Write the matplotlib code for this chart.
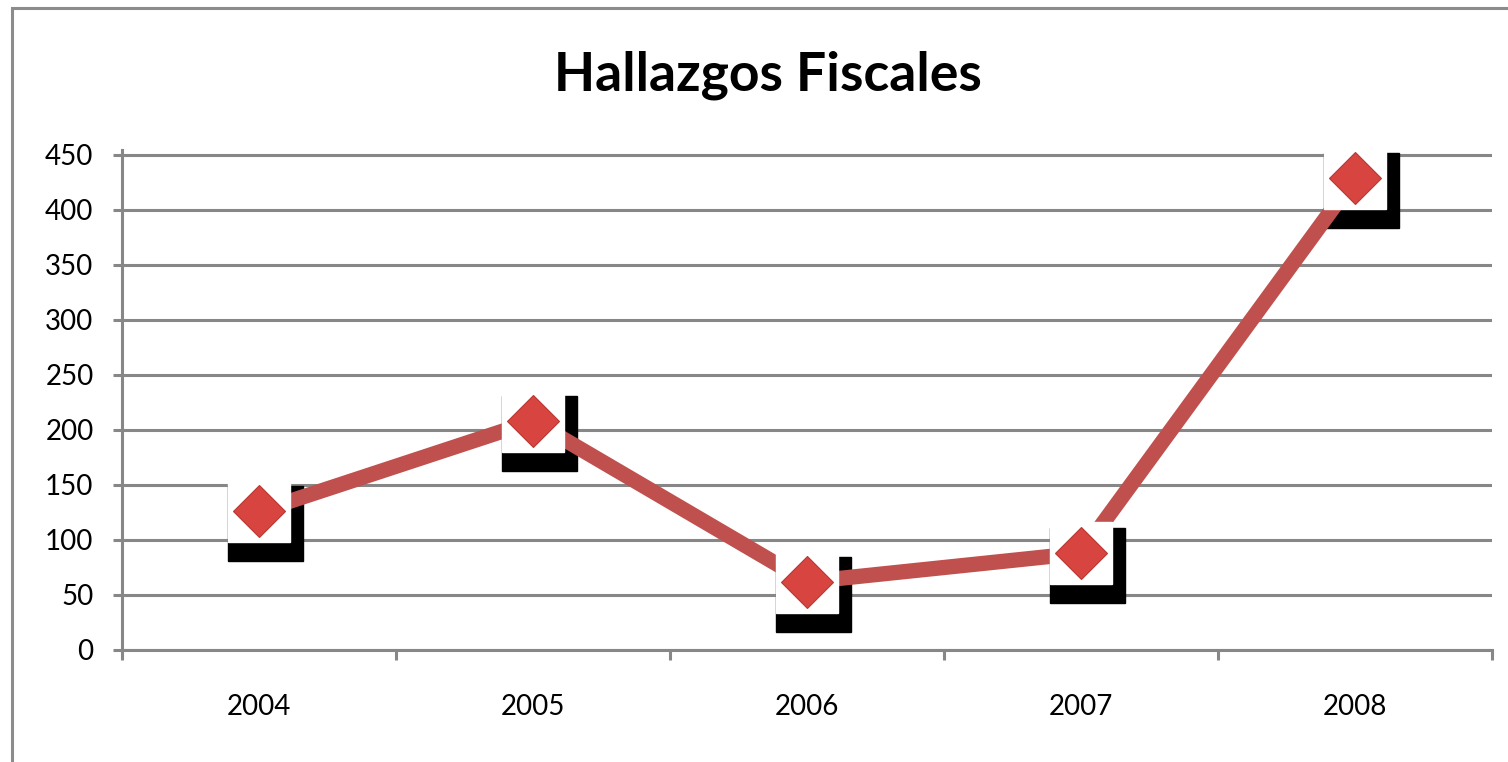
import matplotlib.pyplot as plt
import matplotlib.transforms as mtransforms
from matplotlib.patches import Rectangle

years = ["2004", "2005", "2006", "2007", "2008"]
hallazgos = [126, 208, 62, 88, 429]
y_ticks = [0, 50, 100, 150, 200, 250, 300, 350, 400, 450]

grid_gray = "#878787"
line_red = "#C0504D"

plt.rcParams['font.family'] = ['Lato', 'DejaVu Sans']

fig = plt.figure(figsize=(15.08, 7.62), dpi=100)
ax = fig.add_axes([122 / 1508, 1 - 650 / 762, 1370 / 1508, 500 / 762])

x = list(range(len(years)))

# black "shadow" squares behind the markers, shifted right/down
shadow = ax.transData + mtransforms.ScaledTranslation(6 / 100, -12 / 100, fig.dpi_scale_trans)
ax.plot(x, hallazgos, linestyle="none", marker="s", markersize=54,
        color="black", transform=shadow, zorder=2)
ax.plot(x, hallazgos, color=line_red, linewidth=11, zorder=3,
        solid_capstyle="butt")
ax.plot(x, hallazgos, linestyle="none", marker="s", markersize=44,
        markerfacecolor="white", markeredgecolor="white", zorder=4)
ax.plot(x, hallazgos, linestyle="none", marker="D", markersize=26.5,
        markerfacecolor="#D8443F", markeredgecolor="#B83833",
        markeredgewidth=0.8, zorder=5)

ax.set_xlim(-0.5, len(years) - 0.5)
ax.set_ylim(0, 454.5)
ax.set_yticks(y_ticks)
ax.set_xticks(x)
ax.set_xticklabels(years)
ax.set_xticks([i - 0.5 for i in range(len(years) + 1)], minor=True)

ax.yaxis.grid(True, color=grid_gray, linewidth=2.2)
ax.set_axisbelow(True)
for side in ["top", "right"]:
    ax.spines[side].set_visible(False)
for side in ["left", "bottom"]:
    ax.spines[side].set_color(grid_gray)
    ax.spines[side].set_linewidth(2.2)

ax.tick_params(axis="y", length=6.5, width=2.2, color=grid_gray,
               labelsize=20, pad=14)
ax.tick_params(axis="x", which="major", length=0, labelsize=20, pad=32)
ax.tick_params(axis="x", which="minor", length=7, width=2.2, color=grid_gray)

fig.text(768 / 1508, 1 - 75 / 762, "Hallazgos Fiscales", ha="center",
         va="center", fontsize=38.5, fontweight="bold")

# chart area border (cropped on the right and bottom)
fig.patches.append(Rectangle((12 / 1508, -0.1), 1.2, 1.1 - 8 / 762,
                             transform=fig.transFigure, fill=False,
                             edgecolor="#8c8c8c", linewidth=2.2))

fig.savefig("out.png", dpi=100)
